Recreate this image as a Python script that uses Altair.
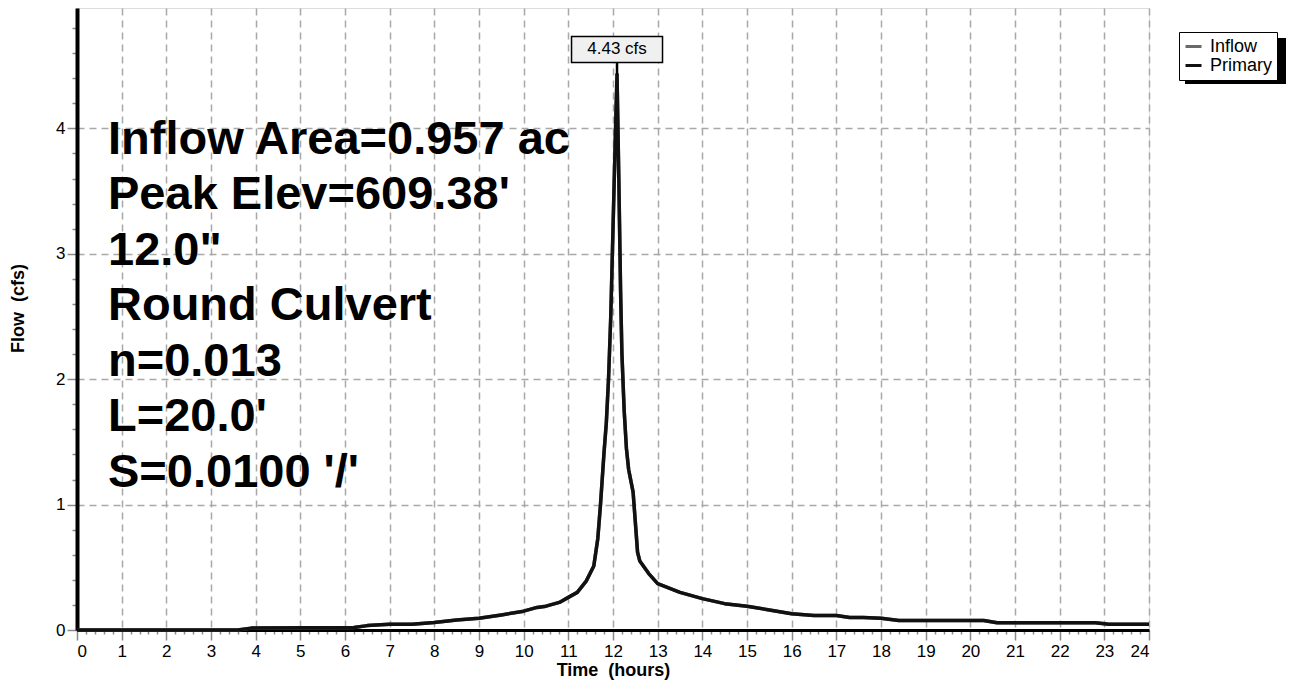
import altair as alt
import pandas as pd

# ---- data ----
times = [0.0, 3.6, 3.9, 6.2, 6.5, 7.0, 7.5, 8.0, 8.5, 9.0, 9.5, 10.0, 10.3, 10.5,
         10.8, 11.0, 11.2, 11.4, 11.57, 11.66, 11.72, 11.8, 11.85, 11.9, 11.95,
         12.0, 12.05, 12.09, 12.13, 12.17, 12.2, 12.25, 12.3, 12.35, 12.45,
         12.55, 12.6, 12.8, 13.0, 13.5, 14.0, 14.5, 15.0, 15.5, 16.0, 16.5,
         17.0, 17.3, 17.6, 18.0, 18.4, 20.3, 20.6, 22.8, 23.1, 24.0]
flows = [0.0, 0.0, 0.015, 0.02, 0.035, 0.045, 0.045, 0.06, 0.08, 0.094, 0.12,
         0.15, 0.18, 0.19, 0.22, 0.26, 0.3, 0.39, 0.51, 0.73, 1.0, 1.42, 1.65,
         2.0, 2.5, 3.2, 3.9, 4.43, 3.6, 2.7, 2.2, 1.75, 1.45, 1.28, 1.1, 0.62,
         0.55, 0.45, 0.37, 0.3, 0.25, 0.21, 0.19, 0.16, 0.13, 0.115, 0.115, 0.1,
         0.1, 0.094, 0.075, 0.075, 0.058, 0.058, 0.045, 0.045]
series_names = ["Inflow", "Primary"]
series_colors = ["#6a6a6a", "#111111"]
info_lines = ["Inflow Area=0.957 ac", "Peak Elev=609.38'", '12.0"',
              "Round Culvert", "n=0.013", "L=20.0'", "S=0.0100 '/'"]
info_x = 0.694
info_y = [3.91, 3.467, 3.024, 2.581, 2.138, 1.695, 1.252]
peak_label = "4.43 cfs"
x_ticks = [round(i * 0.2, 1) for i in range(121)]
y_ticks = [round(i * 0.2, 1) for i in range(25)]

FONT = "Liberation Sans, Arial, Helvetica, sans-serif"

rows = []
for s in series_names:
    for t, q in zip(times, flows):
        rows.append({"t": t, "q": q, "series": s})
df = pd.DataFrame(rows)

pk = max(range(len(flows)), key=lambda i: flows[i])
peak_df = pd.DataFrame({"t": [times[pk]], "q": [flows[pk]], "label": [peak_label]})
info_df = pd.DataFrame({"t": [info_x] * len(info_lines), "q": info_y, "txt": info_lines})

is_major = "abs(datum.value - round(datum.value)) < 0.001"

xscale = alt.Scale(domain=[0, 24], nice=False, zero=False)
yscale = alt.Scale(domain=[0, 4.96], nice=False, zero=False)

xaxis = alt.Axis(
    values=x_ticks, title="Time\u00a0 (hours)",
    labelExpr=f"{is_major} ? ('' + round(datum.value)) : ''", labelOverlap=False,
    labelFont=FONT, labelFontSize=17, labelColor="black", labelPadding=3,
    titleFont=FONT, titleFontSize=18, titleFontWeight="bold", titleColor="black",
    titleBaseline="alphabetic", titleY=45,
    grid=True,
    gridOpacity={"condition": {"test": is_major, "value": 1}, "value": 0},
    gridColor="#a8a8a8", gridDash=[7, 5], gridWidth=1.5,
    tickSize={"condition": {"test": is_major, "value": 10}, "value": 4},
    tickColor="#8a8a8a", tickWidth=1.5,
    domainColor="black", domainWidth=3,
)
yaxis = alt.Axis(
    values=y_ticks, title="Flow\u00a0 (cfs)",
    labelExpr=f"{is_major} ? ('' + round(datum.value)) : ''", labelOverlap=False,
    labelFont=FONT, labelFontSize=17, labelColor="black", labelPadding=2,
    titleFont=FONT, titleFontSize=18, titleFontWeight="bold", titleColor="black",
    titleAngle=270, titleBaseline="alphabetic", titleAlign="center",
    titleX=-54, titleY=300,
    grid=True,
    gridOpacity={"condition": {"test": is_major, "value": 1}, "value": 0},
    gridColor="#a8a8a8", gridDash=[7, 5], gridWidth=1.5,
    tickSize={"condition": {"test": is_major, "value": 10}, "value": 5},
    tickColor="#8a8a8a", tickWidth=1.5,
    domainColor="black", domainWidth=4,
)

X = alt.X("t:Q", scale=xscale, axis=xaxis)
Y = alt.Y("q:Q", scale=yscale, axis=yaxis)

lines = alt.Chart(df).mark_line(strokeWidth=3.5, strokeJoin="round").encode(
    x=X, y=Y,
    color=alt.Color("series:N", scale=alt.Scale(domain=series_names, range=series_colors),
                    legend=alt.Legend(title=None, orient="none", legendX=1102, legendY=24,
                                      strokeColor="black", fillColor="white", padding=5,
                                      symbolType="stroke", symbolStrokeWidth=3,
                                      symbolSize=256, labelFont=FONT, labelFontSize=18,
                                      labelColor="black", labelOffset=7, rowPadding=0,
                                      cornerRadius=0)),
    order=alt.Order("t:Q"),
)

info = alt.Chart(info_df).mark_text(align="left", baseline="middle", font=FONT,
                                    fontSize=47, fontWeight="bold", color="black").encode(
    x=X, y=Y, text="txt:N")

connector = alt.Chart(peak_df).mark_rule(color="black", strokeWidth=2.5, y2Offset=-12).encode(
    x=X, y=Y, y2="q:Q")

box_path = "M-1,-0.286L1,-0.286L1,0.286L-1,0.286Z"
box = alt.Chart(peak_df).mark_point(shape=box_path, size=8281, filled=True, fill="#f0f0f0",
                                    stroke="black", strokeWidth=1.5, opacity=1,
                                    yOffset=-25).encode(x=X, y=Y)

box_text = alt.Chart(peak_df).mark_text(font=FONT, fontSize=17, color="black",
                                        baseline="middle", dy=-25).encode(
    x=X, y=Y, text="label:N")

shadow = alt.Chart(pd.DataFrame({"k": [0]})).mark_rect(color="black").encode(
    x=alt.value(1108), x2=alt.value(1209), y=alt.value(30), y2=alt.value(76))

chart = alt.layer(shadow, lines, info, connector, box, box_text).properties(
    width=1072, height=622,
    padding={"left": 69, "top": 0, "right": 137, "bottom": 50},
    autosize=alt.AutoSizeParams(type="none"),
).configure_view(stroke="#222222", strokeWidth=2).configure(background="white")

chart.save("out.html", embed_options={"renderer": "svg", "actions": False})
